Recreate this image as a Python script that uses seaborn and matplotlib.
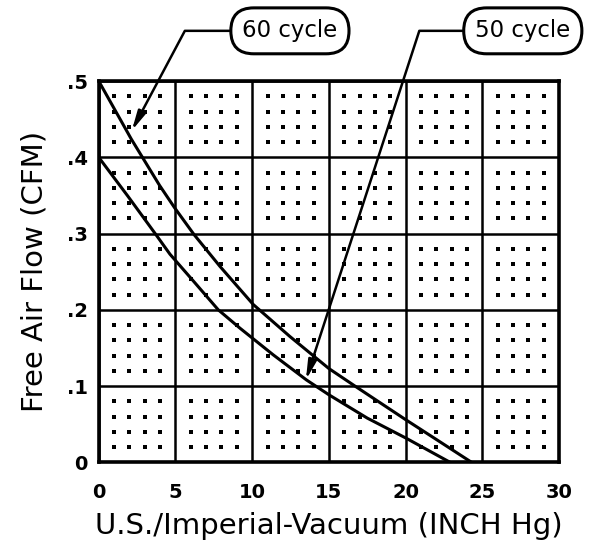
import numpy as np
import pandas as pd
import matplotlib
matplotlib.use("Agg")
import matplotlib.pyplot as plt
import seaborn as sns

# ---- data ----
vac_60 = [0, 2.12, 3.97, 4.94, 6.2, 7.9, 10.07, 12.46, 15, 16.7, 20, 22, 24.3]
flow_60 = [0.5, 0.424, 0.363, 0.334, 0.299, 0.257, 0.207, 0.165, 0.123, 0.1, 0.056, 0.03, 0.0]
vac_50 = [0, 1.9, 3.75, 4.64, 6.2, 7.79, 9.2, 11.37, 13.54, 15, 17.5, 20, 22.9]
flow_50 = [0.4, 0.349, 0.298, 0.273, 0.237, 0.2, 0.176, 0.141, 0.108, 0.0886, 0.058, 0.032, 0.0]

x_ticks = [0, 5, 10, 15, 20, 25, 30]
x_tick_labels = ["0", "5", "10", "15", "20", "25", "30"]
y_ticks = [0, 0.1, 0.2, 0.3, 0.4, 0.5]
y_tick_labels = ["0", ".1", ".2", ".3", ".4", ".5"]

label_60 = "60 cycle"
label_50 = "50 cycle"
x_label = "U.S./Imperial-Vacuum (INCH Hg)"
y_label = "Free Air Flow (CFM)"

df = pd.concat([
    pd.DataFrame({"vac": vac_60, "flow": flow_60, "series": label_60}),
    pd.DataFrame({"vac": vac_50, "flow": flow_50, "series": label_50}),
])

sns.set_style("white")
plt.rcParams["font.family"] = ["DejaVu Sans"]
for k in ["text.color", "axes.labelcolor", "xtick.color", "ytick.color"]:
    plt.rcParams[k] = "black"

fig = plt.figure(figsize=(5.95, 5.52), dpi=100)
ax = fig.add_axes([0.166, 0.1625, 0.7735, 0.6905])

ax.set_xlim(0, 30)
ax.set_ylim(0, 0.5)

# background dots at the minor subdivisions
minor_x = [v for v in np.arange(0, 30.001, 1.0) if round(v) % 5 != 0]
minor_y = [v for v in np.arange(0, 0.5001, 0.02) if int(round(v * 50)) % 5 != 0]
mx, my = np.meshgrid(minor_x, minor_y)
ax.scatter(mx.ravel(), my.ravel(), s=5.5, marker="s", color="black", linewidths=0, zorder=1)

# major grid
ax.set_xticks(x_ticks)
ax.set_xticklabels(x_tick_labels)
ax.set_yticks(y_ticks)
ax.set_yticklabels(y_tick_labels)
ax.grid(True, color="black", linewidth=1.8)
ax.set_axisbelow(True)

sns.lineplot(data=df, x="vac", y="flow", hue="series", palette=["black", "black"],
             linewidth=2.2, legend=False, ax=ax, zorder=3, sort=False,
             estimator=None)

for s in ax.spines.values():
    s.set_linewidth(2.6)
    s.set_color("black")

ax.tick_params(axis="both", length=0, labelsize=14)
ax.tick_params(axis="x", pad=15)
ax.tick_params(axis="y", pad=8)
for t in ax.get_xticklabels() + ax.get_yticklabels():
    t.set_fontweight("bold")

ax.set_xlabel(x_label, fontsize=21, labelpad=7)
ax.set_ylabel(y_label, fontsize=21, labelpad=13)

box = dict(boxstyle="round,pad=0.5,rounding_size=1.0", fc="white", ec="black", lw=2.2)
ax.annotate(label_60, xy=(2.15, 0.435), xytext=(12.46, 0.566),
            textcoords="data", fontsize=16.5, ha="center", va="center",
            bbox=box, annotation_clip=False,
            arrowprops=dict(arrowstyle="-|>,head_length=0.7,head_width=0.15",
                            connectionstyle="angle,angleA=0,angleB=62,rad=0",
                            color="black", lw=1.8, shrinkA=0, shrinkB=0))
ax.annotate(label_50, xy=(13.5, 0.108), xytext=(27.64, 0.566),
            textcoords="data", fontsize=16.5, ha="center", va="center",
            bbox=box, annotation_clip=False,
            arrowprops=dict(arrowstyle="-|>,head_length=0.7,head_width=0.15",
                            connectionstyle="angle,angleA=0,angleB=72,rad=0",
                            color="black", lw=1.8, shrinkA=0, shrinkB=0))

fig.savefig("out.png", dpi=100)
